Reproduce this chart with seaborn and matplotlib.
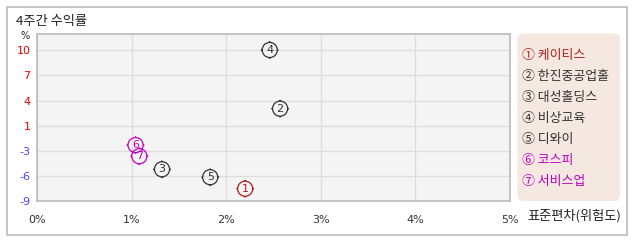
import numpy as np
import pandas as pd
import matplotlib
matplotlib.use("Agg")
import matplotlib.pyplot as plt
import seaborn as sns
from matplotlib.path import Path
from matplotlib.patches import FancyBboxPatch, Rectangle

# ---- data ----
nums = ["1", "2", "3", "4", "5", "6", "7"]
names = ["케이티스", "한진중공업홀", "대성홀딩스", "비상교육", "디와이", "코스피", "서비스업"]
risk = [2.20, 2.57, 1.32, 2.46, 1.83, 1.04, 1.08]      # 표준편차 (%)
ret = [-7.45, 2.65, -5.0, 10.05, -6.0, -1.95, -3.35]   # 4주간 수익률 (%)
circled = ["①", "②", "③", "④", "⑤", "⑥", "⑦"]
colors = ["#b01c1c", "#333333", "#333333", "#333333", "#333333", "#c000c0", "#c000c0"]
ytick_vals = [-9, -5.8333, -2.6667, 0.5, 3.6667, 6.8333, 10]
ytick_labels = ["-9", "-6", "-3", "1", "4", "7", "10"]
xtick_vals = [0, 1, 2, 3, 4, 5]
xtick_labels = ["0%", "1%", "2%", "3%", "4%", "5%"]

df = pd.DataFrame({"num": nums, "name": names, "risk": risk, "ret": ret})

sns.set_theme(style="white")
plt.rcParams["font.family"] = ["Noto Sans CJK KR", "DejaVu Sans"]

fig = plt.figure(figsize=(6.38, 2.42), dpi=100)
fig.patch.set_facecolor("white")

# outer border
fig.add_artist(Rectangle((6.5 / 638, 7 / 242), 620.5 / 638, 228 / 242,
                         transform=fig.transFigure, fill=False,
                         edgecolor="#bbbbbb", linewidth=1.2))

ax = fig.add_axes([37.3 / 638, 41 / 242, 472.4 / 638, 166.7 / 242])
ax.set_facecolor("#f4f4f4")

# marker: circle with small ticks
circ = Path.unit_circle()
verts = list(circ.vertices)
codes = list(circ.codes)
for (a, b) in [((0, 1), (0, 1.18)), ((0, -1), (0, -1.18)), ((1, 0), (1.18, 0)), ((-1, 0), (-1.18, 0))]:
    verts += [a, b]
    codes += [Path.MOVETO, Path.LINETO]
marker_path = Path(verts, codes)

pal = dict(zip(nums, colors))
sns.scatterplot(data=df, x="risk", y="ret", hue="num", palette=pal, marker=marker_path,
                s=165, linewidth=0.9, legend=False, ax=ax, zorder=3)
coll = ax.collections[-1]
coll.set_edgecolors([pal[n] for n in nums])
coll.set_facecolors("none")

for n, x, y, c in zip(nums, risk, ret, colors):
    ax.text(x, y, n, ha="center", va="center", fontsize=8, color=c,
            family="DejaVu Sans", zorder=4)

ax.set_xlim(0, 5)
ax.set_ylim(-9, 12.03)
ax.set_xticks(xtick_vals)
ax.set_xticklabels(xtick_labels, fontsize=8, color="#333333", family="DejaVu Sans")
ax.set_yticks(ytick_vals)
ax.set_yticklabels(ytick_labels, fontsize=8, family="DejaVu Sans")
for lab, t in zip(ax.get_yticklabels(), ytick_labels):
    lab.set_color("#4444ff" if t.startswith("-") else "#ee0000")
ax.tick_params(axis="x", length=0, pad=10)
ax.tick_params(axis="y", length=0, pad=5)
ax.grid(True, color="#dddddd", linewidth=1)
ax.set_axisbelow(True)
for sp in ax.spines.values():
    sp.set_color("#bbbbbb")
    sp.set_linewidth(1.2)
ax.set_xlabel("")
ax.set_ylabel("")

# texts
fig.text(16 / 638, 1 - 21 / 242, "4주간 수익률", fontsize=9.5, color="#222222", va="center", ha="left")
fig.text(25 / 638, 1 - 36 / 242, "%", fontsize=7, color="#222222", va="center", ha="center",
         family="DejaVu Sans")
fig.text(527 / 638, 1 - 216 / 242, "표준편차(위험도)", fontsize=9.5, color="#222222", va="center", ha="left")

# legend box
fig.add_artist(FancyBboxPatch((517.5 / 638, 41 / 242), 102.5 / 638, 167.5 / 242,
                              boxstyle="round,pad=0,rounding_size=0.009",
                              transform=fig.transFigure, facecolor="#f5e8e1",
                              edgecolor="none", mutation_aspect=638 / 242))
for i, (cs, nm, c) in enumerate(zip(circled, names, colors)):
    y = 55.7 + i * 20.9
    fig.text(521.5 / 638, 1 - y / 242, cs + " " + nm, fontsize=9.3, color=c, va="center", ha="left")

fig.savefig("out.png", dpi=100)
